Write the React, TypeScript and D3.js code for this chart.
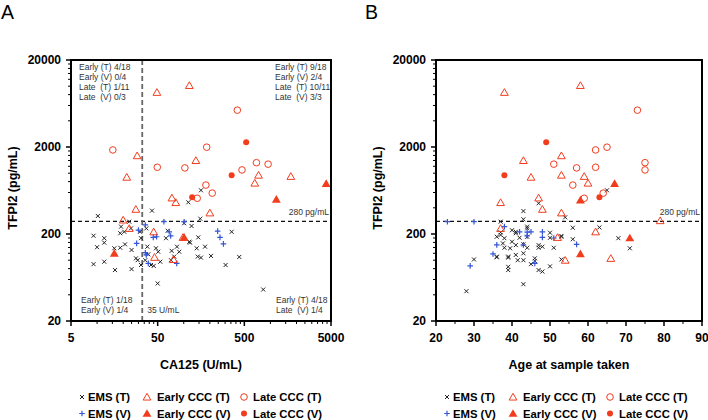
import React from "react";
import * as d3 from "d3";

// CA125 (U/mL) vs TFPI2 (pg/mL)
const caEmsT: [number, number][] = [
  [158, 636], [113, 463], [43, 371], [10.2, 322], [155, 300], [9.1, 191], [12.1, 179], [12.1, 159],
  [10, 141], [15.8, 137], [18.5, 139], [21, 152], [18.9, 243], [20.6, 212], [23.5, 277], [18.5, 204],
  [24.6, 232], [31.3, 212], [25, 131], [28.1, 105], [29.4, 100], [32.1, 88], [9.1, 90], [12.1, 96],
  [16.1, 77], [25, 79], [38, 143], [47.8, 137], [50.8, 125], [39, 117], [36, 100], [41.9, 88],
  [45, 86], [50, 54], [65.2, 218], [62.4, 179], [83.5, 143], [72.5, 128], [77.6, 110], [88.7, 125],
  [116, 163], [101, 266], [37, 232], [32.1, 179], [53.6, 96], [71.2, 100], [147, 183], [357, 212],
  [176, 143], [141, 137], [145, 110], [158, 107], [206, 112], [304, 88], [437, 109], [826, 46],
  [123, 247], [118, 159],
];
const caEmsV: [number, number][] = [
  [59, 277], [101, 277], [36, 254], [30, 222], [44.5, 183], [48.6, 186], [68, 212], [70.6, 190],
  [36, 122], [37, 115], [39, 92], [83, 92], [28.6, 156], [246, 216], [262, 183], [287, 154],
];
const caEarlyT: [number, number][] = [
  [49, 8500], [116, 10200], [29, 1590], [22, 900], [138, 1400], [730, 950], [660, 770], [1720, 920],
  [73, 520], [81, 460], [28, 385], [200, 350], [20, 290], [23.5, 232], [45, 212], [46, 108], [76, 102],
  [98, 183],
];
const caEarlyV: [number, number][] = [[4400, 760], [1170, 500], [15.8, 120], [101, 183]];
const caLateT: [number, number][] = [
  [15.2, 1850], [415, 5300], [184, 1990], [49.5, 1170], [103, 1150], [690, 1320], [940, 1270],
  [470, 1090], [180, 730], [213, 590], [143, 515],
];
const caLateV: [number, number][] = [[525, 2270], [357, 950], [125, 530]];

// Age at sample taken vs TFPI2 (pg/mL)
const ageEmsT: [number, number][] = [
  [43, 367], [43, 295], [37, 277], [36, 186], [37, 195], [37, 209], [40, 221], [41, 212], [41, 204],
  [44, 243], [38, 179], [40, 163], [37.6, 156], [42, 181], [38, 139], [39.5, 137], [41, 149], [43, 152],
  [44, 139], [36, 110], [39, 110], [39, 107], [41, 115], [41.5, 100], [43, 120], [43, 100], [46, 105],
  [46, 98], [45, 90], [47, 77], [48, 74], [39, 84], [39, 77], [44, 186], [44, 232], [47, 149], [47, 139],
  [48, 143], [50, 181], [51, 139], [50, 85], [53, 186], [28, 44], [30, 102], [43, 53], [47, 451],
  [54, 311], [56, 236], [56, 174], [63, 238], [68, 179], [71, 137], [50, 207], [53, 190], [53, 102],
  [65, 636], [36, 108],
];
const ageEmsV: [number, number][] = [
  [23, 277], [30, 277], [36, 150], [35, 118], [29, 86], [38, 243], [42, 212], [44, 210], [44, 190],
  [45, 212], [48, 212], [48, 183], [43, 150], [46, 92], [51, 180], [57, 152],
];
const ageEarlyT: [number, number][] = [
  [38, 8500], [58, 10200], [43, 1400], [53, 1590], [45, 900], [53, 950], [59, 920], [60, 770],
  [37, 460], [47, 520], [48, 385], [53, 350], [37, 232], [52, 183], [54, 100], [62, 212], [66, 105],
  [79, 285],
];
const ageEarlyV: [number, number][] = [[67, 760], [58, 490], [71, 180], [58, 118]];
const ageLateT: [number, number][] = [
  [73, 5300], [62, 1850], [65, 1990], [51, 1270], [57, 1150], [62, 1170], [75, 1320], [75, 1090],
  [56, 730], [59, 515], [64, 590],
];
const ageLateV: [number, number][] = [[49, 2270], [38, 950], [63, 530]];

const yMajor = [20, 200, 2000, 20000];
const caMajor = [5, 50, 500, 5000];
const ageMajor = [20, 30, 40, 50, 60, 70, 80, 90];
const cutTFPI2 = 280;
const cutCA125 = 35;

const quadTL = ["Early (T) 4/18", "Early (V) 0/4", "Late  (T) 1/11", "Late  (V) 0/3"];
const quadTR = ["Early (T) 9/18", "Early (V) 2/4", "Late  (T) 10/11", "Late  (V) 3/3"];
const quadBL = ["Early (T) 1/18", "Early (V) 1/4"];
const quadBR = ["Early (T) 4/18", "Late  (V) 1/4"];

const RED = "#f23c1e";
const BLUE = "#3456d6";
const FONT = "'Liberation Sans', Arial, Helvetica, sans-serif";

const TOP = 60;
const BOTTOM = 321;

const triOpen = d3.symbol(d3.symbolTriangle, 26)() as string;
const triFill = d3.symbol(d3.symbolTriangle, 34)() as string;

type Marker = "x" | "plus" | "triO" | "triF" | "circO" | "circF";

const Mark = ({ kind, x, y }: { kind: Marker; x: number; y: number }) => {
  const t = `translate(${x},${y})`;
  if (kind === "x")
    return <path transform={t} d="M-2,-2L2,2M-2,2L2,-2" stroke="#222" strokeWidth={1} />;
  if (kind === "plus")
    return <path transform={t} d="M-2.8,0H2.8M0,-2.8V2.8" stroke={BLUE} strokeWidth={1.2} />;
  if (kind === "triO")
    return <path transform={`translate(${x},${y + 0.8})`} d={triOpen} fill="none" stroke={RED} strokeWidth={1} />;
  if (kind === "triF")
    return <path transform={`translate(${x},${y + 0.8})`} d={triFill} fill={RED} />;
  if (kind === "circO") return <circle cx={x} cy={y} r={3.3} fill="none" stroke={RED} strokeWidth={1} />;
  return <circle cx={x} cy={y} r={3} fill={RED} />;
};

const Legend = ({ xs }: { xs: number[] }) => {
  const rows: [Marker, string, Marker, string, Marker, string][] = [
    ["x", "EMS (T)", "triO", "Early CCC (T)", "circO", "Late CCC (T)"],
    ["plus", "EMS (V)", "triF", "Early CCC (V)", "circF", "Late CCC (V)"],
  ];
  return (
    <g>
      {rows.map((r, i) => {
        const y = 397 + i * 16.5;
        return (
          <g key={i} fontFamily={FONT} fontWeight="bold" fontSize={11.3}>
            <Mark kind={r[0]} x={xs[0]} y={y} />
            <text x={xs[0] + 6} y={y + 4}>{r[1]}</text>
            <Mark kind={r[2]} x={xs[1]} y={y} />
            <text x={xs[1] + 10} y={y + 4}>{r[3]}</text>
            <Mark kind={r[4]} x={xs[2]} y={y} />
            <text x={xs[2] + 9} y={y + 4}>{r[5]}</text>
          </g>
        );
      })}
    </g>
  );
};

const Panel = (props: {
  left: number;
  right: number;
  x: any;
  xTicks: number[];
  xMinor: number[];
  xLabel: string;
  sets: [Marker, [number, number][]][];
  letter: string;
  letterX: number;
  children?: React.ReactNode;
}) => {
  const { left, right, x, xTicks, xMinor, xLabel, sets, letter, letterX } = props;
  const y = d3.scaleLog().domain([20, 20000]).range([BOTTOM, TOP]);
  const yMinor = yMajor.slice(0, -1).flatMap((m) => d3.range(2, 10).map((k) => m * k));
  const cx = (left + right) / 2;
  return (
    <g>
      <text x={letterX} y={18.5} fontFamily={FONT} fontSize={19.5}>{letter}</text>
      {/* 280 pg/mL cut-off */}
      <line x1={left} x2={right} y1={y(cutTFPI2)} y2={y(cutTFPI2)} stroke="#111" strokeWidth={1.2} strokeDasharray="4,3" />
      <text x={right - 2} y={y(cutTFPI2) - 6.5} textAnchor="end" fontFamily={FONT} fontSize={8.5} fill="#333">
        280 pg/mL
      </text>
      {props.children}
      {sets.map(([kind, pts], si) => (
        <g key={si}>
          {pts.map((d, i) => (
            <Mark key={i} kind={kind} x={x(d[0])} y={y(d[1])} />
          ))}
        </g>
      ))}
      {/* axes */}
      {yMinor.map((v) => (
        <line key={"ym" + v} x1={left - 3} x2={left} y1={y(v)} y2={y(v)} stroke="#000" strokeWidth={1} />
      ))}
      {yMajor.map((v) => (
        <g key={"y" + v}>
          <line x1={left - 5} x2={left} y1={y(v)} y2={y(v)} stroke="#000" strokeWidth={1.5} />
          <text x={left - 10} y={y(v)} dy="0.36em" textAnchor="end" fontFamily={FONT} fontWeight="bold" fontSize={12}>
            {v}
          </text>
        </g>
      ))}
      {xMinor.map((v) => (
        <line key={"xm" + v} x1={x(v)} x2={x(v)} y1={BOTTOM} y2={BOTTOM + 3} stroke="#000" strokeWidth={1} />
      ))}
      {xTicks.map((v) => (
        <g key={"x" + v}>
          <line x1={x(v)} x2={x(v)} y1={BOTTOM} y2={BOTTOM + 5} stroke="#000" strokeWidth={1.5} />
          <text x={x(v)} y={BOTTOM + 20.5} textAnchor="middle" fontFamily={FONT} fontWeight="bold" fontSize={12}>
            {v}
          </text>
        </g>
      ))}
      <rect x={left} y={TOP} width={right - left} height={BOTTOM - TOP} fill="none" stroke="#000" strokeWidth={2} />
      <text x={cx} y={368.5} textAnchor="middle" fontFamily={FONT} fontWeight="bold" fontSize={12.5}>
        {xLabel}
      </text>
      <text
        transform={`translate(${left - 54},188) rotate(-90)`}
        textAnchor="middle"
        fontFamily={FONT}
        fontWeight="bold"
        fontSize={12.5}
      >
        TFPI2 (pg/mL)
      </text>
    </g>
  );
};

const QuadText = ({ lines, x, y0, anchor }: { lines: string[]; x: number; y0: number; anchor?: string }) => (
  <text
    fontFamily={FONT}
    fontSize={8.5}
    fill="#333"
    xmlSpace="preserve"
    style={{ whiteSpace: "pre" }}
    textAnchor={anchor || "start"}
  >
    {lines.map((s, i) => (
      <tspan key={i} x={x} y={y0 + i * 10}>
        {s}
      </tspan>
    ))}
  </text>
);

export default function App() {
  const xA = d3.scaleLog().domain([5, 5000]).range([71, 331]);
  const xB = d3.scaleLinear().domain([20, 90]).range([436, 702]);
  const caMinor = caMajor.slice(0, -1).flatMap((m) => d3.range(2, 10).map((k) => m * k));
  const ageMinor = ageMajor.slice(0, -1).map((v) => v + 5);

  const setsA: [Marker, [number, number][]][] = [
    ["x", caEmsT], ["plus", caEmsV], ["triO", caEarlyT], ["triF", caEarlyV], ["circO", caLateT], ["circF", caLateV],
  ];
  const setsB: [Marker, [number, number][]][] = [
    ["x", ageEmsT], ["plus", ageEmsV], ["triO", ageEarlyT], ["triF", ageEarlyV], ["circO", ageLateT], ["circF", ageLateV],
  ];

  return (
    <svg width={708} height={420} style={{ position: "absolute", left: 0, top: 0, background: "#fff" }}>
      <Panel left={71} right={331} x={xA} xTicks={caMajor} xMinor={caMinor} xLabel="CA125 (U/mL)" sets={setsA} letter="A" letterX={1}>
        <line x1={xA(cutCA125) - 2} x2={xA(cutCA125) - 2} y1={TOP} y2={BOTTOM} stroke="#666" strokeWidth={1.8} strokeDasharray="5,3" />
        <QuadText lines={quadTL} x={79} y0={69.7} />
        <QuadText lines={quadTR} x={275} y0={69.7} />
        <QuadText lines={quadBL} x={81} y0={302.5} />
        <QuadText lines={quadBR} x={276} y0={302.5} />
        <text x={xA(cutCA125) + 3} y={312.5} fontFamily={FONT} fontSize={8.5} fill="#333">35 U/mL</text>
      </Panel>
      <Panel left={436} right={702} x={xB} xTicks={ageMajor} xMinor={ageMinor} xLabel="Age at sample taken" sets={setsB} letter="B" letterX={365} />
      <Legend xs={[82, 147, 244]} />
      <Legend xs={[447, 513, 610]} />
    </svg>
  );
}
